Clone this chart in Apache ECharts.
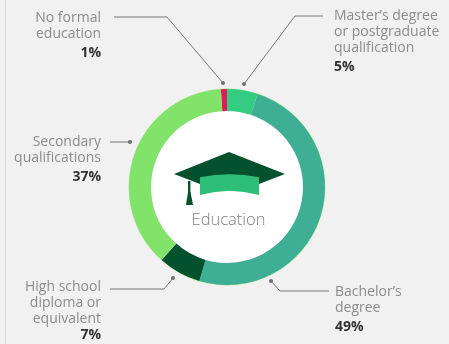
<!DOCTYPE html>
<html>
<head>
<meta charset="utf-8">
<style>
  html, body { margin: 0; padding: 0; background: #f1f1f1; }
  #chart { width: 449px; height: 344px; }
</style>
<script src="https://cdn.jsdelivr.net/npm/echarts@6/dist/echarts.min.js"></script>
</head>
<body>
<div id="chart"></div>
<script>
// Education breakdown, clockwise from the top of the ring
const categories = [
  'No formal\neducation',
  "Master\u2019s degree\nor postgraduate\nqualification",
  'Bachelor\u2019s\ndegree',
  'High school\ndiploma or\nequivalent',
  'Secondary\nqualifications'
];
const shares = [1, 5, 49, 7, 37];
const colours = ['#e2195b', '#33cc80', '#3eae94', '#03522d', '#82e36a'];

// Callout geometry: text anchor, value line style and leader path for each slice
const labelAnchors = [
  { x: 101, y: 10, align: 'right', valueStyle: 'v' },
  { x: 334, y: 8, align: 'left', valueStyle: 'v' },
  { x: 335, y: 284, align: 'left', valueStyle: 'v' },
  { x: 101, y: 279, align: 'right', valueStyle: 'tight' },
  { x: 101, y: 134, align: 'right', valueStyle: 'v' }
];
const leaders = [
  [[223, 83], [167, 17], [114, 17]],
  [[244, 84], [295, 16], [323, 16]],
  [[271, 281], [280, 291], [329, 291]],
  [[173, 278], [164, 289], [110, 289]],
  [[130, 142], [130, 142], [110, 142]]
];

const centre = [227, 187];
const ringRadius = [76, 98];

const chart = echarts.init(document.getElementById('chart'), null, { renderer: 'canvas' });

const capGraphics = [
  { // mortarboard
    type: 'polygon',
    shape: { points: [[174, 174], [229, 152], [285, 174], [259, 184], [200, 184]] },
    style: { fill: '#03522d' }
  },
  { // cord
    type: 'rect',
    shape: { x: 188, y: 181, width: 2.4, height: 14 },
    style: { fill: '#03522d' }
  },
  { // tassel
    type: 'polygon',
    shape: { points: [[188, 192], [190.5, 192], [193, 205], [186, 205]] },
    style: { fill: '#03522d' }
  },
  { // band under the board
    type: 'polygon',
    shape: { points: [
      [200, 177.3], [215, 175], [229.5, 174.3], [244, 175], [259, 177.3],
      [259, 195], [244, 192], [229.5, 190.7], [215, 192], [200, 195]
    ] },
    style: { fill: '#2dbf77' }
  }
];

const valueFont = { fontFamily: 'Open Sans', fontSize: 14, fontWeight: 'bold', color: '#333333' };

chart.setOption({
  animation: false,
  backgroundColor: '#f1f1f1',
  graphic: [
    { type: 'line', silent: true, z: 0, shape: { x1: 5.5, y1: 0, x2: 5.5, y2: 344 }, style: { stroke: '#dcdcdc', lineWidth: 1 } },
    { type: 'circle', silent: true, z: 0, shape: { cx: centre[0], cy: centre[1], r: ringRadius[0] + 1 }, style: { fill: '#ffffff' } },
    { type: 'ring', silent: true, z: 0, shape: { cx: centre[0], cy: centre[1], r: ringRadius[1] + 0.4, r0: ringRadius[1] - 2 }, style: { fill: '#a5e88f' } },
    ...capGraphics.map(g => ({ ...g, silent: true, z: 5 })),
    {
      type: 'text', silent: true, z: 5,
      style: {
        x: 228.5, y: 220, text: 'Education', align: 'center', verticalAlign: 'middle',
        font: '300 16.5px "Open Sans"', fill: '#808080'
      }
    },
    ...leaders.map(path => ({
      type: 'circle', silent: true, z: 6,
      shape: { cx: path[0][0], cy: path[0][1], r: 2 },
      style: { fill: '#6e6e6e' }
    }))
  ],
  series: [{
    type: 'pie',
    center: centre,
    radius: ringRadius,
    startAngle: 93.6,
    clockwise: true,
    silent: true,
    avoidLabelOverlap: false,
    itemStyle: { borderWidth: 0 },
    data: categories.map((name, i) => ({
      name,
      value: shares[i],
      itemStyle: { color: colours[i] }
    })),
    label: {
      show: true,
      position: 'outer',
      formatter: p => {
        const lines = p.name.split('\n').map(l => '{n|' + l + '}');
        const style = labelAnchors[p.dataIndex].valueStyle;
        return lines.join('\n') + '\n{' + style + '|' + p.value + '%}';
      },
      rich: {
        n: { fontFamily: 'Open Sans', fontSize: 14, lineHeight: 16, color: '#8c8c8c' },
        v: { ...valueFont, lineHeight: 22 },
        tight: { ...valueFont, lineHeight: 16 }
      }
    },
    labelLine: { show: true, lineStyle: { color: '#777777', width: 1 } },
    labelLayout: p => {
      const a = labelAnchors[p.dataIndex];
      return {
        x: a.x, y: a.y, align: a.align, verticalAlign: 'top',
        labelLinePoints: leaders[p.dataIndex]
      };
    }
  }]
});
</script>
</body>
</html>
